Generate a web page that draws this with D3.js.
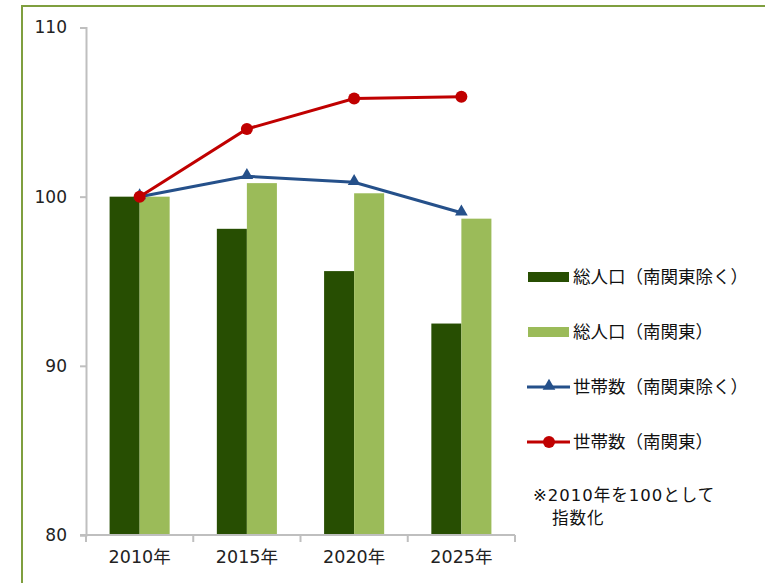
<!DOCTYPE html>
<html>
<head>
<meta charset="utf-8">
<script src="https://cdn.jsdelivr.net/npm/d3@7"></script>
<style>
  body { margin: 0; background: #fff; }
  svg { display: block; }
</style>
</head>
<body>
<script>
const width = 765;
const height = 583;

// data
const years = ['2010年', '2015年', '2020年', '2025年'];
const popOther = [100, 98.1, 95.6, 92.5];     // 総人口（南関東除く）
const popKanto = [100, 100.8, 100.2, 98.7];   // 総人口（南関東）
const hhOther = [100, 101.2, 100.85, 99.05];  // 世帯数（南関東除く）
const hhKanto = [100, 104.0, 105.8, 105.9];   // 世帯数（南関東）
const yTicks = [80, 90, 100, 110];
const barNames = ['総人口（南関東除く）', '総人口（南関東）'];
const lineNames = ['世帯数（南関東除く）', '世帯数（南関東）'];
const note = ['※2010年を100として', '指数化'];

const colors = {
  dark: '#274e02',
  light: '#9bbb59',
  blue: '#25508a',
  red: '#c00000',
  axis: '#bfbfbf',
  frame: '#7f9f3f'
};

const margin = { top: 27.5, left: 86, right: 250, bottom: 48 };
const numFont = '"DejaVu Sans", "Noto Sans CJK JP", sans-serif';
const jpFont = '"Noto Sans CJK JP", sans-serif';

const svg = d3.select('body').append('svg')
  .attr('width', width)
  .attr('height', height);

// outer frame
svg.append('rect')
  .attr('x', 22).attr('y', 6)
  .attr('width', width + 20).attr('height', height + 20)
  .attr('fill', 'none')
  .attr('stroke', colors.frame)
  .attr('stroke-width', 2);

// scales
const x0 = d3.scaleBand()
  .domain(years)
  .range([margin.left, width - margin.right])
  .padding(0);

const groupW = x0.bandwidth() * 0.56;
const x1 = d3.scaleBand()
  .domain([0, 1])
  .range([(x0.bandwidth() - groupW) / 2, (x0.bandwidth() + groupW) / 2]);

const y = d3.scaleLinear()
  .domain([80, 110])
  .range([height - margin.bottom, margin.top]);

// bars
const barData = years.map((yr, i) => ({ yr, vals: [popOther[i], popKanto[i]] }));
const groups = svg.selectAll('g.bar-group')
  .data(barData)
  .join('g')
  .classed('bar-group', true)
  .attr('transform', d => `translate(${x0(d.yr)},0)`);

groups.selectAll('rect')
  .data(d => d.vals.map((v, k) => ({ k, v })))
  .join('rect')
  .attr('x', d => x1(d.k))
  .attr('width', x1.bandwidth())
  .attr('y', d => y(d.v))
  .attr('height', d => y(80) - y(d.v))
  .attr('fill', d => d.k === 0 ? colors.dark : colors.light);

// y axis
const yAxis = d3.axisLeft(y).tickValues(yTicks).tickSize(6).tickPadding(13);
const yg = svg.append('g')
  .attr('transform', `translate(${margin.left},0)`)
  .call(yAxis);
yg.selectAll('line').attr('stroke', colors.axis).attr('stroke-width', 2);
yg.select('.domain').attr('stroke', colors.axis).attr('stroke-width', 2);
yg.selectAll('text')
  .attr('font-family', numFont).attr('font-size', 17).attr('fill', '#222');

// x axis
const xAxis = d3.axisBottom(x0).tickSize(0).tickPadding(16);
const xg = svg.append('g')
  .attr('transform', `translate(0,${y(80)})`)
  .call(xAxis);
xg.select('.domain').attr('stroke', colors.axis).attr('stroke-width', 2)
  .attr('d', `M${margin.left - 6},0H${width - margin.right}`);
xg.selectAll('text')
  .attr('font-family', numFont).attr('font-size', 17.5).attr('fill', '#222');
// boundary ticks
const bounds = years.map(d => x0(d)).concat([x0.range()[1]]);
xg.selectAll('line.bound')
  .data(bounds)
  .join('line')
  .classed('bound', true)
  .attr('x1', d => d).attr('x2', d => d)
  .attr('y1', 0).attr('y2', 7)
  .attr('stroke', colors.axis).attr('stroke-width', 2);

// lines
const cx = d => x0(d) + x0.bandwidth() / 2;
const lineGen = d3.line()
  .x(d => cx(d.yr))
  .y(d => y(d.v));

const lineSeries = [
  { vals: hhOther, color: colors.blue, marker: 'tri' },
  { vals: hhKanto, color: colors.red, marker: 'circ' }
];

const tri = d3.symbol().type(d3.symbolTriangle).size(70);

lineSeries.forEach(s => {
  const pts = years.map((yr, i) => ({ yr, v: s.vals[i] }));
  svg.append('path')
    .datum(pts)
    .attr('d', lineGen)
    .attr('fill', 'none')
    .attr('stroke', s.color)
    .attr('stroke-width', 3);
  if (s.marker === 'circ') {
    svg.selectAll(null).data(pts).join('circle')
      .attr('cx', d => cx(d.yr)).attr('cy', d => y(d.v))
      .attr('r', 6).attr('fill', s.color);
  } else {
    svg.selectAll(null).data(pts).join('path')
      .attr('d', tri)
      .attr('transform', d => `translate(${cx(d.yr)},${y(d.v) - 1})`)
      .attr('fill', s.color);
  }
});

// legend
const legX = 528;
const legY0 = 277;
const legStep = 55;
const leg = svg.append('g');
const legItems = [
  { name: barNames[0], type: 'bar', color: colors.dark },
  { name: barNames[1], type: 'bar', color: colors.light },
  { name: lineNames[0], type: 'tri', color: colors.blue },
  { name: lineNames[1], type: 'circ', color: colors.red }
];
legItems.forEach((it, i) => {
  const ly = legY0 + i * legStep;
  if (it.type === 'bar') {
    leg.append('rect')
      .attr('x', legX).attr('y', ly - 5)
      .attr('width', 41).attr('height', 10)
      .attr('fill', it.color);
  } else {
    leg.append('line')
      .attr('x1', legX - 1).attr('x2', legX + 42)
      .attr('y1', ly).attr('y2', ly)
      .attr('stroke', it.color).attr('stroke-width', 3);
    if (it.type === 'circ') {
      leg.append('circle').attr('cx', legX + 21).attr('cy', ly).attr('r', 6).attr('fill', it.color);
    } else {
      leg.append('path').attr('d', tri)
        .attr('transform', `translate(${legX + 21},${ly - 1})`).attr('fill', it.color);
    }
  }
  leg.append('text')
    .attr('x', legX + 45).attr('y', ly)
    .attr('dy', '0.35em')
    .attr('font-family', jpFont).attr('font-size', 17.5)
    .attr('fill', '#111')
    .text(it.name);
});

// note
svg.append('text')
  .attr('x', 533).attr('y', 495).attr('dy', '0.35em')
  .attr('font-family', numFont).attr('font-size', 16.5)
  .attr('letter-spacing', 1).attr('fill', '#111')
  .text(note[0]);
svg.append('text')
  .attr('x', 552).attr('y', 518).attr('dy', '0.35em')
  .attr('font-family', jpFont).attr('font-size', 16.5)
  .attr('letter-spacing', 1).attr('fill', '#111')
  .text(note[1]);
</script>
</body>
</html>
